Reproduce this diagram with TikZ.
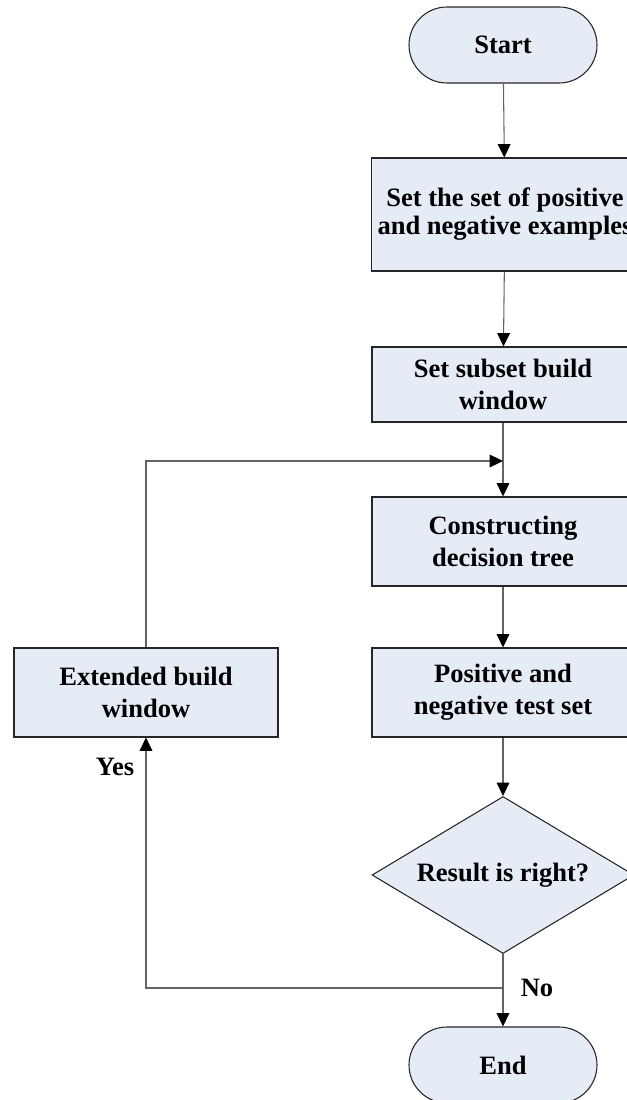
\documentclass[tikz,border=0pt]{standalone}
\usepackage{fontspec}
\setmainfont{Liberation Serif}
\usetikzlibrary{arrows.meta,shapes.geometric}
\definecolor{boxfill}{RGB}{230,236,246}
\definecolor{linegray}{RGB}{100,100,100}
\begin{document}
\begin{tikzpicture}[x=0.75pt,y=-0.75pt,
  every node/.style={font=\fontsize{19.9}{24}\selectfont\bfseries, align=center},
  base/.style={draw=black!85, line width=0.8pt, fill=boxfill, inner sep=0pt},
  stadium/.style={base, rectangle, rounded corners=28.5pt, minimum width=141pt, minimum height=57pt},
  procbox/.style={base, rectangle, minimum width=196.5pt},
  decision/.style={base, diamond, aspect=1.67, minimum width=196.5pt, minimum height=117.75pt},
  conn/.style={draw=linegray, line width=0.8pt},
  arr/.style={conn, -{Triangle[length=10pt,width=9.5pt,color=black]}},
  lbl/.style={inner sep=0pt}]
\clip (0,0) rectangle (627,1100);
\node[stadium] (start) at (503,45) {Start};
\node[procbox, minimum width=200pt, minimum height=84.75pt] (b1) at (505,214.5) {\raisebox{2pt}{\shortstack{Set the set of positive\\and negative examples}}};
\node[procbox, minimum height=56.25pt] (b2) at (503,384.5) {Set subset build\\window};
\node[procbox, minimum height=66.75pt] (b3) at (503,541.5) {Constructing\\decision tree};
\node[procbox, minimum height=66.75pt] (b4) at (503,692.5) {Positive and\\negative test set};
\node[procbox, minimum width=198pt, minimum height=66.75pt] (ext) at (146,692.5) {Extended build\\window};
\node[decision] (dec) at (503,875) {Result is right?};
\node[stadium] (end) at (503,1065) {End};
\coordinate (m) at (503,461);
\coordinate (br) at (503,988);
\node[lbl] (no) at (537,988) {No};
\node[lbl] (yes) at (115,767) {Yes};
\draw[arr] (start) -- (b1);
\draw[arr] (b1) -- (b2);
\draw[conn] (b2) -- (m);
\draw[arr] (m) -- (b3);
\draw[arr] (ext.north) |- (m);
\draw[arr] (b3) -- (b4);
\draw[arr] (b4) -- (dec);
\draw[conn] (dec.south) -- (br);
\draw[arr] (br) -- (end);
\draw[arr] (br) -| (ext.south);
\end{tikzpicture}
\end{document}
